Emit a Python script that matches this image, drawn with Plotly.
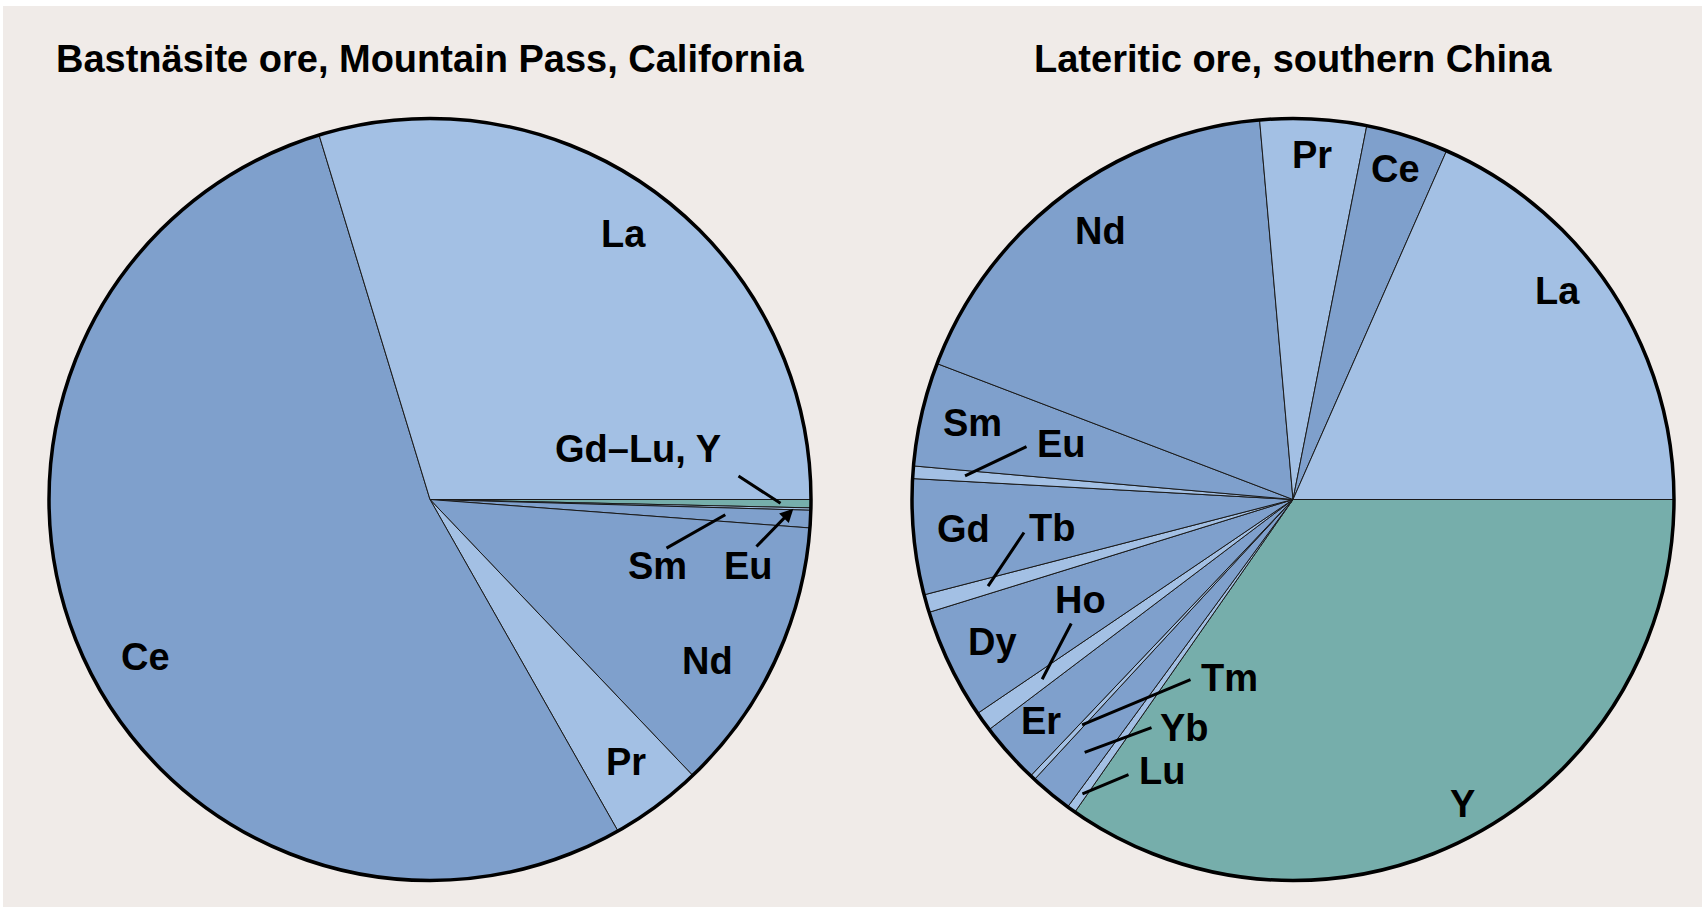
import math
import plotly.graph_objects as go

W, H = 1704, 910

# ---------------------------------------------------------------------------
# Rare-earth element distribution (percent of total REO), listed clockwise
# starting from the 3 o'clock position.
# ---------------------------------------------------------------------------
mp_elements = ["Gd–Lu, Y", "Eu", "Sm", "Nd", "Pr", "Ce", "La"]
mp_percent = [0.35, 0.10, 0.74, 11.7, 3.9, 53.5, 29.7]

ch_elements = ["Y", "Lu", "Yb", "Tm", "Er", "Ho", "Dy", "Tb", "Gd",
               "Eu", "Sm", "Nd", "Pr", "Ce", "La"]
ch_percent = [34.7, 0.37, 1.8, 0.22, 2.6, 0.83, 4.7, 0.76, 4.9,
              0.53, 4.4, 17.8, 4.5, 3.5, 18.4]

titles = ["Bastnäsite ore, Mountain Pass, California",
          "Lateritic ore, southern China"]

# ---------------------------------------------------------------------------
# Styling
# ---------------------------------------------------------------------------
BG = "#f0ebe8"
LIGHT = "#a3c0e4"
MID = "#7fa0cc"
GREEN = "#76aeab"
FONT = "Liberation Sans, Arial, sans-serif"
TITLE_SIZE = 38
LABEL_SIZE = 38

shade = {"La": LIGHT, "Pr": LIGHT, "Eu": LIGHT, "Tb": LIGHT, "Ho": LIGHT,
         "Tm": LIGHT, "Lu": LIGHT,
         "Ce": MID, "Nd": MID, "Sm": MID, "Gd": MID, "Dy": MID, "Er": MID,
         "Yb": MID,
         "Y": GREEN, "Gd–Lu, Y": GREEN}

R = 381                       # pie radius, px
centres = [(430, 499.5), (1293, 499.5)]
START = 90                    # first slice starts at 3 o'clock

# label text centres (px) for each pie
label_pos = [
    {"La": (623, 234), "Ce": (145, 657), "Nd": (707, 661), "Pr": (626, 762),
     "Gd–Lu, Y": (638, 449), "Sm": (657, 566), "Eu": (748, 566)},
    {"Pr": (1312, 155), "Ce": (1395, 169), "Nd": (1100, 231), "La": (1557, 291),
     "Sm": (972, 423), "Eu": (1061, 444), "Gd": (963, 529), "Tb": (1052, 528),
     "Ho": (1080, 600), "Dy": (993, 642), "Er": (1041, 721), "Tm": (1229, 678),
     "Yb": (1184, 728), "Lu": (1162, 771), "Y": (1462, 804)},
]

# leader lines: start point (px), tip radius as a fraction of R, arrowhead
leaders = [
    {"Gd–Lu, Y": (737, 475, 0.92, 0), "Sm": (665, 549, 0.776, 0),
     "Eu": (755, 548, 0.954, 2)},
    {"Eu": (1028, 446, 0.863, 0), "Tb": (1025, 531, 0.832, 0),
     "Ho": (1072, 622, 0.81, 0), "Tm": (1192, 679, 0.81, 0),
     "Yb": (1153, 727, 0.86, 0), "Lu": (1130, 774, 0.95, 0)},
]


def px(x):
    return x / W


def py(y):
    return 1 - y / H


def domain(cx, cy, r):
    return dict(x=[px(cx - r), px(cx + r)], y=[py(cy + r), py(cy - r)])


def mid_angles(names, values):
    total = float(sum(values))
    out, a = {}, START
    for n, v in zip(names, values):
        span = 360.0 * v / total
        out[n] = a + span / 2
        a += span
    return out


fig = go.Figure()
annotations = []

pies = [(mp_elements, mp_percent), (ch_elements, ch_percent)]
for i, (names, vals) in enumerate(pies):
    cx, cy = centres[i]
    dom = domain(cx, cy, R)
    fig.add_trace(go.Pie(
        labels=names, values=vals, sort=False, direction="clockwise",
        rotation=START, domain=dom, textinfo="none",
        marker=dict(colors=[shade[n] for n in names],
                    line=dict(color="#1a1a1a", width=1)),
        hovertemplate="%{label}: %{value}%<extra></extra>",
    ))
    # heavy outer rim
    fig.add_trace(go.Pie(
        values=[1], labels=[" "], sort=False, domain=dom, textinfo="none",
        hoverinfo="skip",
        marker=dict(colors=["rgba(0,0,0,0)"], line=dict(color="black", width=3.5)),
    ))

    # title
    annotations.append(dict(
        text=titles[i], x=px(cx), y=py(59), xref="paper", yref="paper",
        xanchor="center", yanchor="middle", showarrow=False,
        font=dict(family=FONT, size=TITLE_SIZE, color="black", weight="bold")))

    # slice labels
    for n, (lx, ly) in label_pos[i].items():
        annotations.append(dict(
            text=n, x=px(lx), y=py(ly), xref="paper", yref="paper",
            xanchor="center", yanchor="middle", showarrow=False,
            font=dict(family=FONT, size=LABEL_SIZE, color="black", weight="bold")))

    # leader lines pointing into the thin slices
    mids = mid_angles(names, vals)
    for n, (sx, sy, rf, head) in leaders[i].items():
        th = math.radians(mids[n])
        tx = cx + rf * R * math.sin(th)
        ty = cy - rf * R * math.cos(th)
        annotations.append(dict(
            text="", x=px(tx), y=py(ty), xref="paper", yref="paper",
            ax=sx - tx, ay=sy - ty, showarrow=True,
            arrowhead=head, arrowsize=0.9, arrowwidth=3, arrowcolor="black",
            standoff=0, startstandoff=0))

fig.update_layout(
    width=W, height=H, autosize=False,
    margin=dict(l=0, r=0, t=0, b=0),
    paper_bgcolor="white",
    showlegend=False,
    annotations=annotations,
    shapes=[dict(type="rect", xref="paper", yref="paper",
                 x0=px(3), x1=px(1702), y0=py(907), y1=py(6),
                 fillcolor=BG, line=dict(width=0), layer="below")],
)

fig.write_html("out.html")
